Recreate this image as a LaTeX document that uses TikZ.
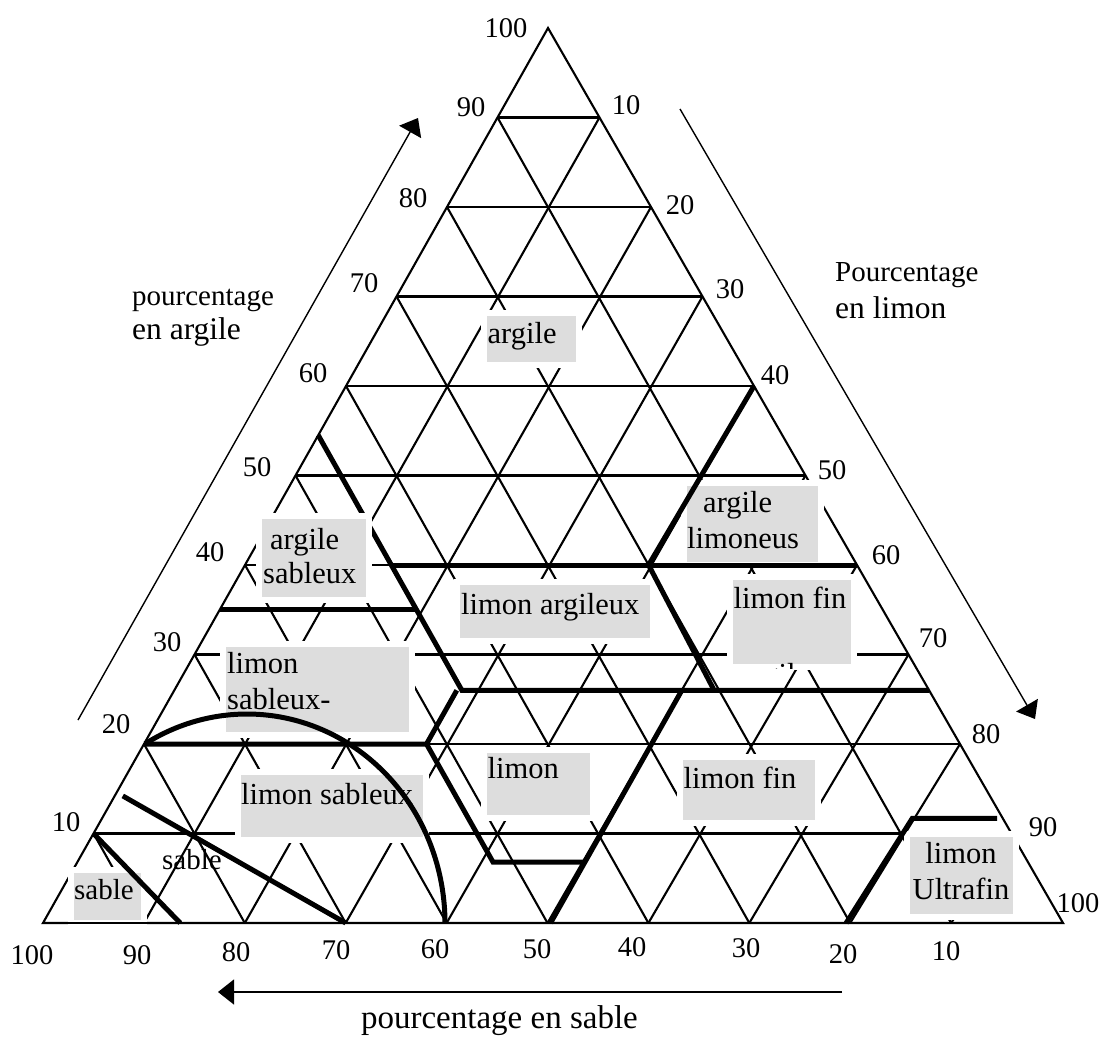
\documentclass[tikz,border=0pt]{standalone}
\usepackage{fontspec}
\setmainfont{Liberation Serif}
\usetikzlibrary{arrows.meta}
\definecolor{boxgray}{RGB}{221,221,221}

% Ternary coordinates: clay (0 at the base, 100 at the apex) and sand
% (100 at the lower left corner); silt is what remains.
\makeatletter
\tikzset{cs/clay/.store in=\ter@clay, cs/sand/.store in=\ter@sand}
\tikzdeclarecoordinatesystem{ter}{%
  \tikzset{cs/.cd,clay=0,sand=0,#1}%
  \pgfmathsetmacro\ter@x{1052-10.09*(\ter@sand)-5.04*(\ter@clay)}%
  \pgfmathsetmacro\ter@y{923-8.95*(\ter@clay)}%
  \pgfpointxy{\ter@x}{\ter@y}}
% point on the drawn right-hand side (sand = 0)
\tikzdeclarecoordinatesystem{redge}{%
  \tikzset{cs/.cd,clay=0,#1}%
  \pgfmathsetmacro\ter@x{1063-5.15*(\ter@clay)}%
  \pgfmathsetmacro\ter@y{923-8.95*(\ter@clay)}%
  \pgfpointxy{\ter@x}{\ter@y}}
\makeatother

\begin{document}
\begin{tikzpicture}[x=1pt,y=-1pt,
  gridline/.style={line width=2.1pt},
  rule/.style={line width=5pt},
  axisarrow/.style={line width=1.4pt,-{Triangle[length=16pt,width=25pt]}},
  lblbox/.style={fill=boxgray,preaction={draw=white,line width=12pt}},
  lbl/.style={anchor=base west,inner sep=0pt,font=\fontsize{30.5}{36}\selectfont},
  lblc/.style={anchor=base,inner sep=0pt,font=\fontsize{30.5}{36}\selectfont},
  sandlbl/.style={anchor=base west,inner sep=0pt,font=\fontsize{29}{35}\selectfont},
  num/.style={inner sep=0pt,font=\fontsize{28.5}{34}\selectfont},
  ttl/.style={anchor=base west,inner sep=0pt,font=\fontsize{29}{35}\selectfont},
  ttlb/.style={anchor=base west,inner sep=0pt,font=\fontsize{31.5}{37}\selectfont}]

\useasboundingbox (0,0) rectangle (1102,1036);
\fill[white] (0,0) rectangle (1102,1036);

% corners of the triangle
\coordinate (apex) at (548,28);
\coordinate (left) at (43,923);
\coordinate (right) at (1063,923);

% 10 % grid
\foreach \vc in {10,20,...,90}
  \draw[gridline] (ter cs:clay=\vc,sand={100-\vc}) -- (redge cs:clay=\vc);
\foreach \vs in {10,20,...,90}
  \draw[gridline] (ter cs:clay={100-\vs},sand=\vs) -- (ter cs:clay=0,sand=\vs);
\foreach \vt in {10,20,...,90}
  \draw[gridline] (redge cs:clay={100-\vt}) -- (ter cs:clay=0,sand={100-\vt});
\draw[gridline] (apex) -- (left) -- (right) -- cycle;

% class limit lying under the label frames
\draw[rule] (ter cs:clay=54.5,sand=45.5) -- (ter cs:clay=26,sand=45.5) -- (redge cs:clay=26);

% label frames
\path[lblbox] (487,316) rectangle (576,362);
\path[lblbox] (262,519) rectangle (366,597);
\path[lblbox] (226,647) rectangle (409,732);
\path[lblbox] (241,775) rectangle (423,837);
\path[lblbox] (74,873) rectangle (141,920);
\path[lblbox] (460,585) rectangle (650,638);
\path[lblbox] (487,753) rectangle (590,815);
\path[lblbox] (683,760) rectangle (815,820);
\path[lblbox] (733,580) rectangle (851,664);
\path[lblbox] (687,486) rectangle (818,562);
\path[lblbox] (910,837) rectangle (1013,914);
\draw[gridline] (left) -- (right);

% class names
\node[lbl] (argile) at (487.5,343) {argile};
\node[lbl] (argsabA) at (270,549) {argile};
\node[lbl] (argsabB) at (263,583) {sableux};
\node[lbl] (limsabargA) at (227,673) {limon};
\node[lbl] (limsabargB) at (227,709) {sableux-};
\node[lbl] (limsab) at (241,804) {limon sableux};
\node[sandlbl] (sableA) at (74,899) {sable};
\node[sandlbl] (sableB) at (162,869) {sable};
\node[lbl] (limarg) at (461,614) {limon argileux};
\node[lbl] (limon) at (487.5,778) {limon};
\node[lbl] (limfin) at (683.5,788) {limon fin};
\node[lbl] (limfinarg) at (733.5,608) {limon fin};
\begin{scope}
  \clip (730,662) rectangle (800,668);
  \node[lbl] (limfinrest) at (740,684) {argileux};
\end{scope}
\node[lbl] (arglimA) at (703,512) {argile};
\node[lbl] (arglimB) at (687,548) {limoneus};
\node[lblc] (ultraA) at (961,863) {limon};
\node[lblc] (ultraB) at (961,899) {Ultrafin};

% class limits
\draw[rule] (ter cs:clay=40,sand=45.5) -- (redge cs:clay=40);
\draw[rule] (ter cs:clay=35,sand=65) -- (ter cs:clay=35,sand=45.5);
\draw[rule] (ter cs:clay=20,sand=80) -- (ter cs:clay=20,sand=52) -- (ter cs:clay=26,sand=46);
\draw[rule] (ter cs:clay=20,sand=52) -- (ter cs:clay=6.8,sand=52) -- (ter cs:clay=6.8,sand=42.9);
\draw[rule] (ter cs:clay=0,sand=49.7) -- (ter cs:clay=26,sand=23.7);
\draw[rule] (redge cs:clay=60) -- (ter cs:clay=40,sand=20) -- (ter cs:clay=26,sand=20.5);
\draw[rule] (ter cs:clay=0,sand=20.4) -- (ter cs:clay=10,sand=9.8) -- (ter cs:clay=11.7,sand=8) -- (ter cs:clay=11.7,sand=-0.4);
\draw[rule] (ter cs:clay=14.2,sand=85) -- (ter cs:clay=0,sand=70);
\draw[rule] (ter cs:clay=10,sand=90) -- (ter cs:clay=0,sand=86.4);
\draw[rule] plot[smooth,domain=121:0,samples=60] ({247+198*cos(\x)},{923-209*sin(\x)});

% clay scale
\foreach \lab/\px/\py [count=\i] in {100/506/28,90/471/107,80/413/198,70/364/283,60/313/373,
    50/257/467,40/210/552,30/167/642,20/116/724,10/66/822}
  \node[num] (clay\i) at (\px,\py) {\lab};
% silt scale
\foreach \lab/\px/\py [count=\i] in {10/626/105,20/680/205,30/730/289,40/775/375,50/832/470,
    60/886/555,70/933/638,80/986/734,90/1043/827,100/1078/903}
  \node[num] (silt\i) at (\px,\py) {\lab};
% sand scale
\foreach \lab/\px/\py [count=\i] in {100/32/955,90/137/955,80/236/952,70/336/950,60/435/949,
    50/537/949,40/632/947,30/746/948,20/843/954,10/946/951}
  \node[num] (sand\i) at (\px,\py) {\lab};

% axis titles and arrows
\node[ttl] (clayttlA) at (132,305) {pourcentage};
\node[ttlb] (clayttlB) at (132,339.5) {en argile};
\node[ttl] (siltttlA) at (835,281.7) {Pourcentage};
\node[ttlb] (siltttlB) at (835,318.3) {en limon};
\node[anchor=base east,inner sep=0pt,font=\fontsize{33}{38}\selectfont] (sandttl) at (638,1028) {pourcentage en sable};

\coordinate (clayfrom) at (78,720);
\coordinate (clayto) at (418,118);
\coordinate (siltfrom) at (680,109);
\coordinate (siltto) at (1035,719);
\coordinate (sandfrom) at (842,992);
\coordinate (sandto) at (218,992);
\draw[axisarrow] (clayfrom) -- (clayto);
\draw[axisarrow] (siltfrom) -- (siltto);
\draw[axisarrow] (sandfrom) -- (sandto);
\end{tikzpicture}
\end{document}
